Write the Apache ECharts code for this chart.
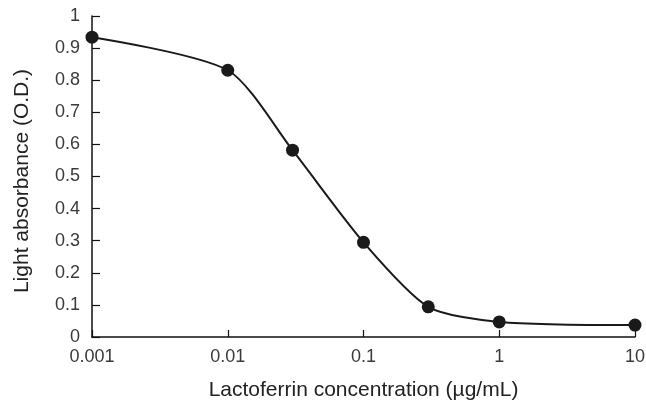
<!DOCTYPE html>
<html>
<head>
<meta charset="utf-8">
<script src="https://cdn.jsdelivr.net/npm/echarts@6/dist/echarts.min.js"></script>
<style>
  html, body { margin: 0; padding: 0; background: #fff; }
  #chart { width: 646px; height: 401px; }
</style>
</head>
<body>
<div id="chart"></div>
<script>
  // concentration (µg/mL) and absorbance
  var concentration = [0.001, 0.01, 0.03, 0.1, 0.3, 1, 10];
  var absorbance = [0.934, 0.831, 0.582, 0.295, 0.094, 0.047, 0.037];

  var points = [];
  for (var i = 0; i < concentration.length; i++) {
    points.push([concentration[i], absorbance[i]]);
  }

  var font = 'Liberation Sans, Arial, sans-serif';
  var myChart = echarts.init(document.getElementById('chart'));
  myChart.setOption({
    animation: false,
    grid: { left: 92, right: 11, top: 16, bottom: 64, containLabel: false, outerBoundsMode: 'none' },
    xAxis: {
      type: 'log',
      logBase: 10,
      min: 0.001,
      max: 10,
      name: 'Lactoferrin concentration (\u00b5g/mL)',
      nameLocation: 'middle',
      nameGap: 43,
      nameTextStyle: { color: '#222', fontSize: 21, fontFamily: font },
      axisLine: { lineStyle: { color: '#111', width: 1.5 } },
      axisTick: { inside: true, length: 7, lineStyle: { color: '#111', width: 1.2 } },
      minorTick: { show: false },
      splitLine: { show: false },
      axisLabel: {
        color: '#3a3a3a', fontSize: 18, fontFamily: font, margin: 11,
        formatter: function (v) { return String(+v.toPrecision(3)); }
      }
    },
    yAxis: {
      type: 'value',
      min: 0,
      max: 1,
      interval: 0.1,
      name: 'Light absorbance (O.D.)',
      nameLocation: 'middle',
      nameGap: 59,
      nameTextStyle: { color: '#222', fontSize: 21, fontFamily: font, padding: [0, 0, 0, -9] },
      axisLine: { show: true, lineStyle: { color: '#111', width: 1.5 } },
      axisTick: { show: true, inside: true, length: 8, lineStyle: { color: '#111', width: 1.2 } },
      splitLine: { show: false },
      axisLabel: {
        color: '#3a3a3a', fontSize: 18, fontFamily: font, margin: 12,
        formatter: function (v) { return String(+v.toFixed(1)); }
      }
    },
    series: [{
      type: 'line',
      data: points,
      smooth: 0.25,
      symbol: 'circle',
      symbolSize: 13,
      itemStyle: { color: '#1a1a1a' },
      lineStyle: { color: '#1a1a1a', width: 2 }
    }]
  });
</script>
</body>
</html>
